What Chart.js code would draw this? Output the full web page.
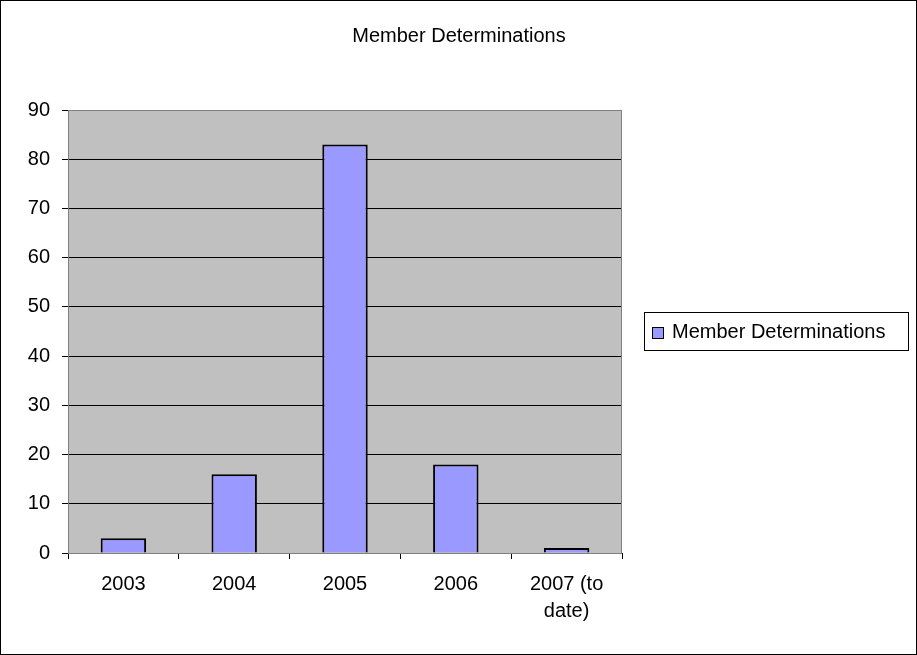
<!DOCTYPE html>
<html>
<head>
<meta charset="utf-8">
<script src="https://cdn.jsdelivr.net/npm/chart.js@4/dist/chart.umd.min.js"></script>
<style>
    html, body { margin: 0; padding: 0; background: #fff; }
    .wrap { width: 917px; height: 655px; position: relative; }
</style>
</head>
<body>
<div class="wrap"><canvas id="memberChart"></canvas></div>
<script>
const chartTitle = 'Member Determinations';
const years = ['2003', '2004', '2005', '2006', ['2007 (to', 'date)']];
const determinations = [3, 16, 83, 18, 1];
const yTicks = { min: 0, max: 90, step: 10 };

const font = "'Liberation Sans', Arial, sans-serif";

// plot area background, outer frame, title and boxed legend (Excel look)
const excelLook = {
    id: 'excelLook',
    beforeDraw(chart) {
        const { ctx, chartArea: a } = chart;
        ctx.save();
        ctx.fillStyle = '#c0c0c0';
        ctx.fillRect(a.left, a.top, a.right - a.left, a.bottom - a.top);
        ctx.restore();
    },
    afterDraw(chart) {
        const { ctx, chartArea: a } = chart;
        ctx.save();
        // plot border
        ctx.strokeStyle = '#808080';
        ctx.lineWidth = 1;
        ctx.strokeRect(a.left + 0.5, a.top + 0.5, a.right - a.left - 1, a.bottom - a.top);
        // outer frame
        ctx.strokeStyle = '#000';
        ctx.strokeRect(0.5, 0.5, chart.width - 1, chart.height - 1);
        // title
        ctx.fillStyle = '#000';
        ctx.font = '20px ' + font;
        ctx.textAlign = 'center';
        ctx.textBaseline = 'middle';
        ctx.fillText(chartTitle, 459, 36);
        // legend
        const ds = chart.data.datasets[0];
        ctx.strokeRect(644.5, 312.5, 264, 38);
        ctx.fillStyle = ds.backgroundColor;
        ctx.fillRect(652, 327, 12, 12);
        ctx.strokeRect(652.5, 327.5, 11, 11);
        ctx.fillStyle = '#000';
        ctx.textAlign = 'left';
        ctx.fillText(ds.label, 672, 332);
        ctx.restore();
    }
};

window.addEventListener("DOMContentLoaded", () => {
    const ctx = document.getElementById("memberChart").getContext("2d");

    new Chart(ctx, {
        type: 'bar',
        data: {
            labels: years,
            datasets: [{
                label: 'Member Determinations',
                data: determinations,
                backgroundColor: '#9999ff',
                borderColor: '#000',
                borderWidth: 2,
                barPercentage: 0.41,
                categoryPercentage: 1
            }]
        },
        options: {
            responsive: true,
            maintainAspectRatio: false,
            animation: false,
            layout: { padding: { top: 110, right: 295, bottom: 0, left: 0 } },
            plugins: {
                legend: { display: false },
                title: { display: false },
                tooltip: { enabled: false }
            },
            scales: {
                x: {
                    afterFit: s => { s.height = 102; },
                    grid: { offset: true, drawOnChartArea: false, color: '#000', tickLength: 6 },
                    border: { color: '#000' },
                    ticks: { color: '#000', font: { family: font, size: 20, lineHeight: 1.35 }, padding: 12, maxRotation: 0 }
                },
                y: {
                    min: yTicks.min,
                    max: yTicks.max,
                    afterFit: s => { s.width = 68; },
                    grid: { color: '#000', tickLength: 6 },
                    border: { color: '#000' },
                    ticks: { stepSize: yTicks.step, color: '#000', font: { family: font, size: 20 }, padding: 12 }
                }
            }
        },
        plugins: [excelLook]
    });
});
</script>
</body>
</html>
